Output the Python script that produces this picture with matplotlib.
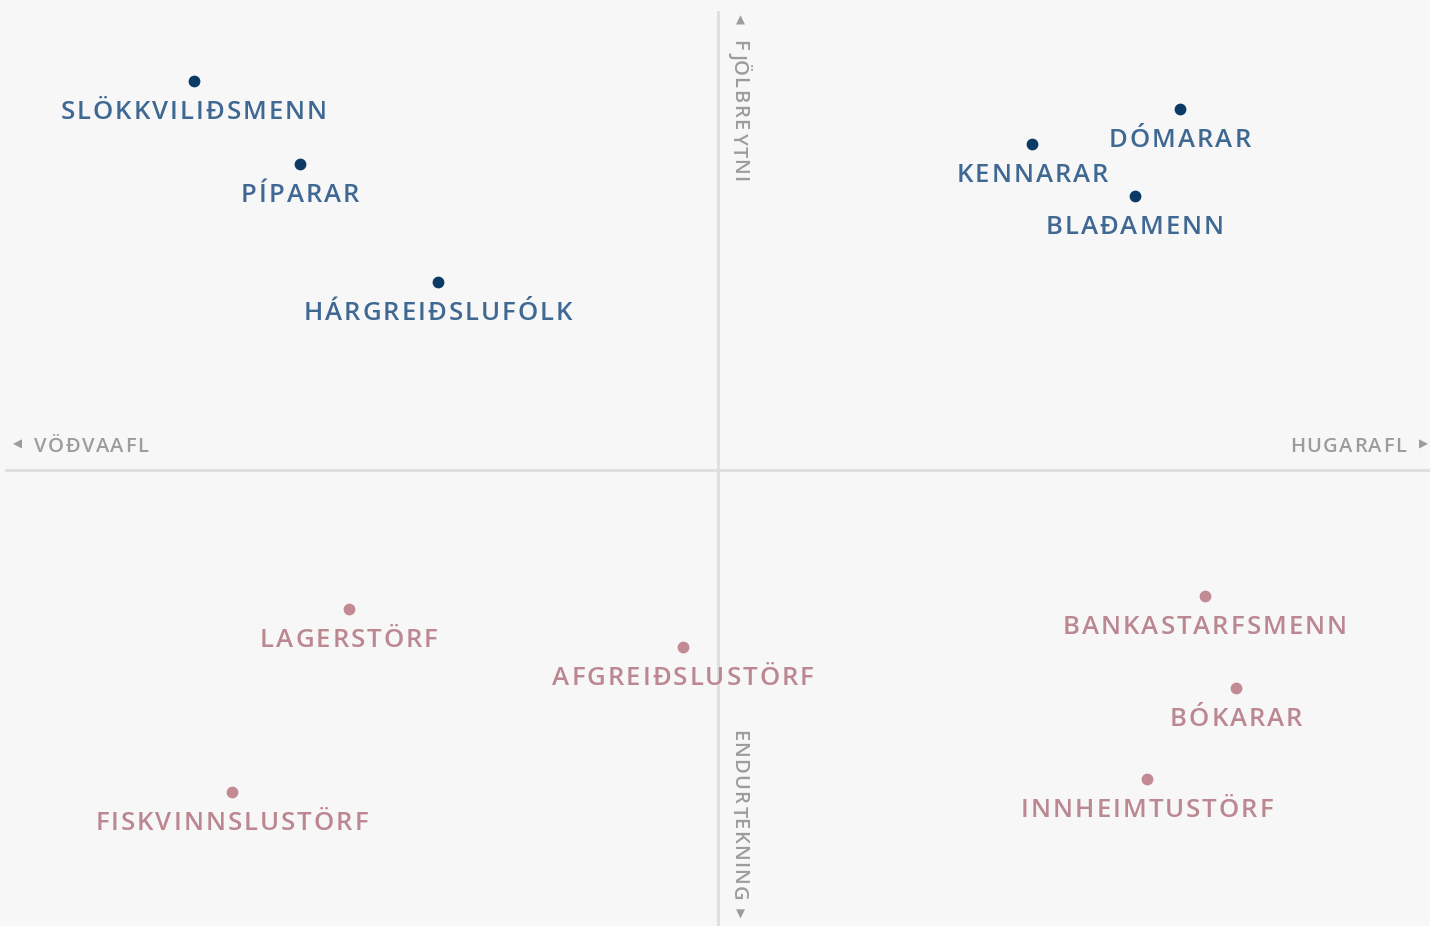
import matplotlib
matplotlib.use('Agg')
import matplotlib.pyplot as plt
from matplotlib.font_manager import FontProperties, findfont, get_font

# starf, x = hugarafl(+)/vöðvaafl(-), y = fjölbreytni(+)/endurtekning(-)
top_jobs = ['SLÖKKVILIÐSMENN', 'PÍPARAR', 'HÁRGREIÐSLUFÓLK', 'KENNARAR', 'DÓMARAR', 'BLAÐAMENN']
top_x = [-73.3, -58.4, -39.2, 44.0, 64.6, 58.3]
top_y = [84.6, 66.5, 40.9, 70.9, 78.5, 59.6]

bottom_jobs = ['LAGERSTÖRF', 'AFGREIÐSLUSTÖRF', 'FISKVINNSLUSTÖRF', 'BANKASTARFSMENN', 'BÓKARAR', 'INNHEIMTUSTÖRF']
bottom_x = [-51.6, -4.9, -68.0, 68.1, 72.5, 60.0]
bottom_y = [-30.2, -38.5, -70.0, -27.4, -47.4, -67.2]

DPI = 100
W, H = 1430, 926
bg = '#f7f7f7'
fig = plt.figure(figsize=(W / DPI, H / DPI), dpi=DPI, facecolor=bg)
ax = fig.add_axes([0, 0, 1, 1], facecolor=bg)
ax.set_xlim(-100.4, 99.6)
ax.set_ylim(-99.1, 102.2)
ax.axis('off')

ax.axhline(0, xmin=0.004, xmax=1, color='#dedede', lw=2, zorder=1)
ax.plot([0, 0], [-99.1, 99.5], color='#dedede', lw=2, zorder=1)


def advance(ch, size, weight):
    fp = FontProperties(family='Open Sans', weight=weight, size=size)
    f = get_font(findfont(fp))
    f.set_size(size, DPI)
    g = f.load_char(ord(ch))
    return g.linearHoriAdvance / 65536.0


def spaced(xy, s, size, color, weight, track, dx=0, dy=0, align='center',
           rotation=0, coords='data'):
    # text with letter spacing, placed char by char (offsets in pixels)
    widths = [advance(c, size, weight) for c in s]
    total = sum(widths) + track * (len(s) - 1)
    if align == 'center':
        pos = -total / 2
    elif align == 'right':
        pos = -total
    else:
        pos = 0
    for c, w in zip(s, widths):
        off = (dx + pos, dy) if rotation == 0 else (dx, dy - pos)
        ax.annotate(c, xy, xycoords=coords, xytext=off, textcoords='offset pixels',
                    ha='left', va='baseline', rotation=rotation,
                    rotation_mode='anchor', fontsize=size, color=color,
                    fontweight=weight, family='Open Sans', zorder=4)
        pos += w + track


def draw(xs, ys, names, dot, txt):
    ax.scatter(xs, ys, s=72, color=dot, zorder=3, linewidths=0)
    for x, y, n in zip(xs, ys, names):
        spaced((x, y), n, 18.5, txt, 'semibold', 2.0, dy=-38)


draw(top_x, top_y, top_jobs, '#0b3a66', '#3f6892')
draw(bottom_x, bottom_y, bottom_jobs, '#c28a92', '#bb8790')

gray = '#9c9c9c'
fs_ax = 14.5
spaced((34, H - 452), 'VÖÐVAAFL', fs_ax, gray, 'semibold', 1.5, align='left',
       coords='figure pixels')
spaced((1406, H - 452), 'HUGARAFL', fs_ax, gray, 'semibold', 1.5, align='right',
       coords='figure pixels')
spaced((733, H - 40), 'FJÖLBREYTNI', fs_ax, gray, 'semibold', 1.6, align='left',
       rotation=-90, coords='figure pixels')
spaced((733, H - 730), 'ENDURTEKNING', fs_ax, gray, 'semibold', 1.2, align='left',
       rotation=-90, coords='figure pixels')

# small arrow heads at the ends of the axes
for t, px, py in [('◀', 17, 444), ('▶', 1423, 444), ('▲', 740, 20), ('▼', 740, 914)]:
    ax.annotate(t, (px, H - py), xycoords='figure pixels', ha='center', va='center',
                fontsize=8.5, color=gray, family='DejaVu Sans', zorder=4)

fig.savefig('out.png', dpi=DPI, facecolor=bg)
